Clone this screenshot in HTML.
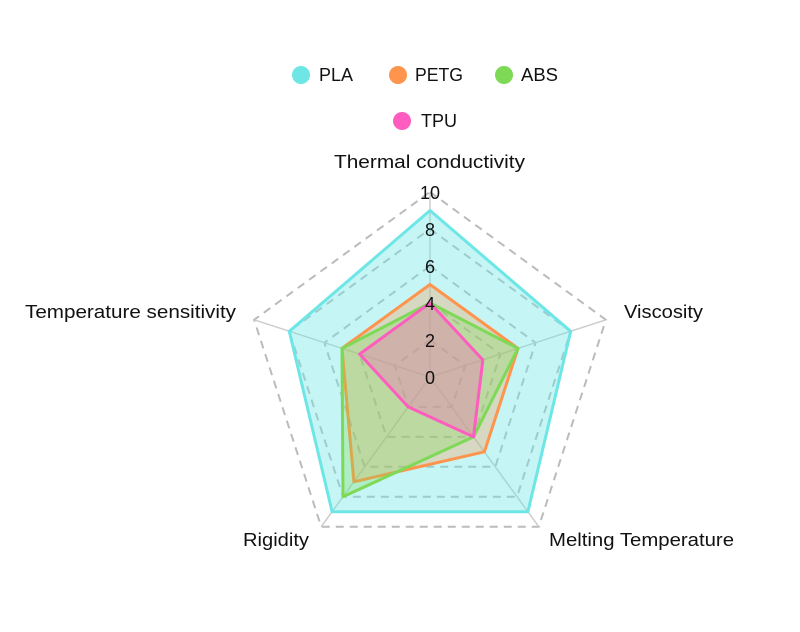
<!DOCTYPE html>
<html><head><meta charset="utf-8"><style>body{margin:0;background:#fff}svg{display:block;font-family:"Liberation Sans",sans-serif}</style></head><body>
<svg width="800" height="632" viewBox="0 0 800 632">
<g fill="none" stroke="#bbb" stroke-width="2" stroke-dasharray="8,6">
<polygon points="430,192 605.9,319.8 538.8,526.7 321.2,526.7 254.1,319.8"/>
<polygon points="430,229 570.7,331.3 517,496.7 343,496.7 289.3,331.3"/>
<polygon points="430,266 535.6,342.7 495.3,466.8 364.7,466.8 324.4,342.7"/>
<polygon points="430,303 500.4,354.1 473.5,436.9 386.5,436.9 359.6,354.1"/>
<polygon points="430,340 465.2,365.6 451.8,406.9 408.2,406.9 394.8,365.6"/>
</g>
<g stroke="#ccc" stroke-width="1.5">
<line x1="430" y1="377" x2="430" y2="192"/><line x1="430" y1="377" x2="605.9" y2="319.8"/><line x1="430" y1="377" x2="538.8" y2="526.7"/><line x1="430" y1="377" x2="321.2" y2="526.7"/><line x1="430" y1="377" x2="254.1" y2="319.8"/>
</g>
<g stroke-width="3" stroke-linejoin="round">
<polygon points="430,210.5 570.7,331.3 527.9,511.7 332.1,511.7 289.3,331.3" fill="#6ee6e6" fill-opacity="0.4" stroke="#6ee6e6"/>
<polygon points="430,284.5 518,348.4 484.4,451.8 353.9,481.8 342,348.4" fill="#ff944d" fill-opacity="0.3" stroke="#ff944d"/>
<polygon points="430,303 518,348.4 473.5,436.9 343,496.7 342,348.4" fill="#7ed957" fill-opacity="0.3" stroke="#7ed957"/>
<polygon points="430,303 482.8,359.9 473.5,436.9 408.2,406.9 359.6,354.1" fill="#ff5cbf" fill-opacity="0.3" stroke="#ff5cbf"/>
</g>
<g font-size="18" fill="#111">
<g text-anchor="middle">
<text x="430" y="199">10</text><text x="430" y="236">8</text><text x="430" y="273">6</text><text x="430" y="310">4</text><text x="430" y="347">2</text><text x="430" y="384">0</text>
</g>
<text x="334" y="168" textLength="191" lengthAdjust="spacingAndGlyphs">Thermal conductivity</text>
<text x="624" y="318" textLength="79" lengthAdjust="spacingAndGlyphs">Viscosity</text>
<text x="549" y="546" textLength="185" lengthAdjust="spacingAndGlyphs">Melting Temperature</text>
<text x="243" y="546" textLength="66" lengthAdjust="spacingAndGlyphs">Rigidity</text>
<text x="25" y="318" textLength="211" lengthAdjust="spacingAndGlyphs">Temperature sensitivity</text>
</g>
<g font-size="18" fill="#111">
<circle cx="301" cy="75" r="9" fill="#6ee6e6"/><text x="319" y="81" textLength="34" lengthAdjust="spacingAndGlyphs">PLA</text>
<circle cx="398" cy="75" r="9" fill="#ff944d"/><text x="415" y="81" textLength="48" lengthAdjust="spacingAndGlyphs">PETG</text>
<circle cx="504" cy="75" r="9" fill="#7ed957"/><text x="521" y="81" textLength="37" lengthAdjust="spacingAndGlyphs">ABS</text>
<circle cx="402" cy="121" r="9" fill="#ff5cbf"/><text x="421" y="127" textLength="36" lengthAdjust="spacingAndGlyphs">TPU</text>
</g>
</svg>
</body></html>
